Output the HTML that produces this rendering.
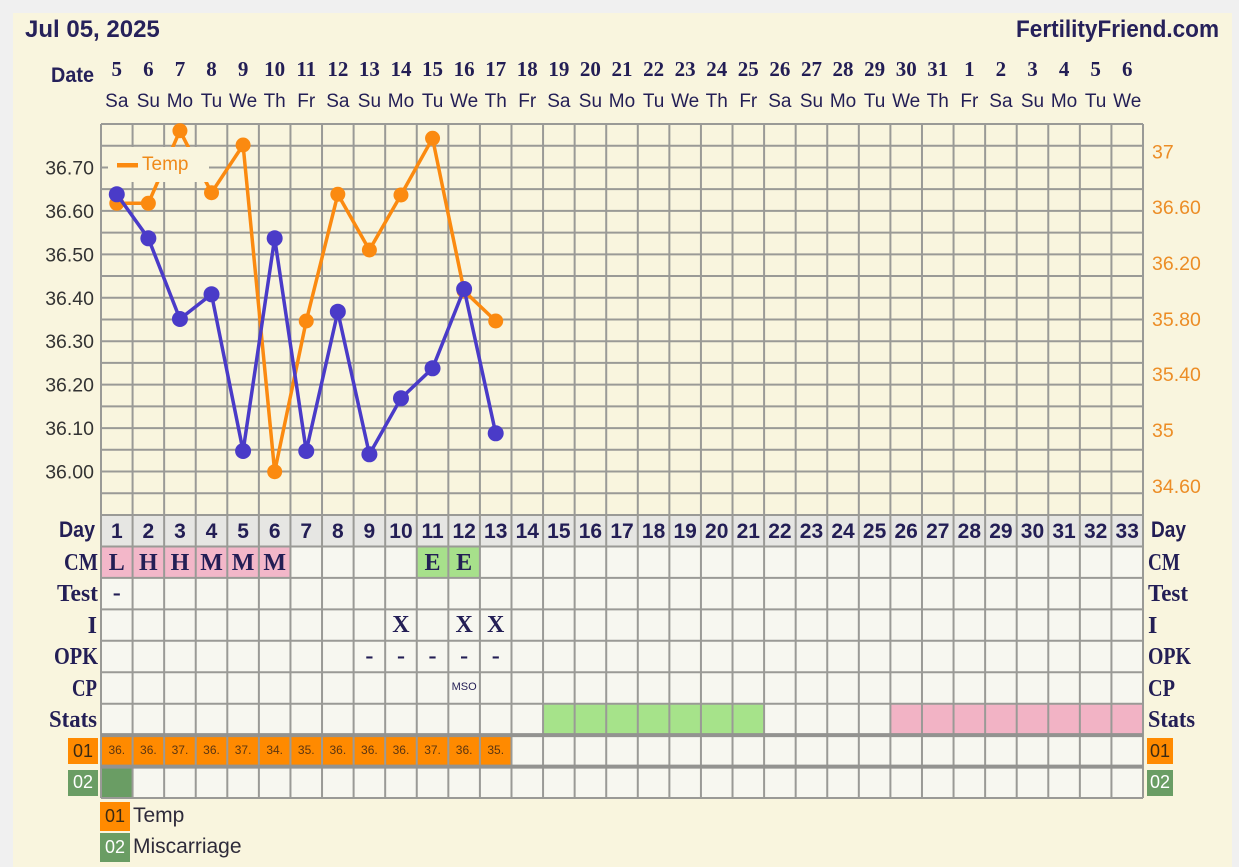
<!DOCTYPE html>
<html><head><meta charset="utf-8"><style>
html,body{margin:0;padding:0;background:#f0f0f0;}
svg{display:block;}
.sn{font-family:"Liberation Sans",sans-serif;}
.sf{font-family:"Liberation Serif",serif;font-weight:bold;}
</style></head><body>
<svg width="1239" height="867" viewBox="0 0 1239 867" xmlns="http://www.w3.org/2000/svg">
<rect x="0" y="0" width="1239" height="867" fill="#f0f0f0"/>
<rect x="13" y="13" width="1219" height="854" fill="#f9f5de"/>

<!-- header -->
<text x="25" y="37" class="sn" font-weight="bold" font-size="24" fill="#26215a">Jul 05, 2025</text>
<text x="1016" y="37" class="sn" font-weight="bold" font-size="24" fill="#26215a" textLength="203" lengthAdjust="spacingAndGlyphs">FertilityFriend.com</text>
<text x="94" y="82" class="sn" font-weight="bold" font-size="21" fill="#26215a" text-anchor="end" textLength="43" lengthAdjust="spacingAndGlyphs">Date</text>

<g class="sf" font-size="21" fill="#231e55" text-anchor="middle">
<text x="116.79" y="76">5</text><text x="148.36" y="76">6</text><text x="179.94" y="76">7</text><text x="211.52" y="76">8</text><text x="243.09" y="76">9</text><text x="274.67" y="76">10</text><text x="306.24" y="76">11</text><text x="337.82" y="76">12</text><text x="369.40" y="76">13</text><text x="400.97" y="76">14</text><text x="432.55" y="76">15</text><text x="464.12" y="76">16</text><text x="495.70" y="76">17</text><text x="527.28" y="76">18</text><text x="558.85" y="76">19</text><text x="590.43" y="76">20</text><text x="622.00" y="76">21</text><text x="653.58" y="76">22</text><text x="685.16" y="76">23</text><text x="716.73" y="76">24</text><text x="748.31" y="76">25</text><text x="779.88" y="76">26</text><text x="811.46" y="76">27</text><text x="843.04" y="76">28</text><text x="874.61" y="76">29</text><text x="906.19" y="76">30</text><text x="937.76" y="76">31</text><text x="969.34" y="76">1</text><text x="1000.92" y="76">2</text><text x="1032.49" y="76">3</text><text x="1064.07" y="76">4</text><text x="1095.64" y="76">5</text><text x="1127.22" y="76">6</text>
</g>
<g class="sn" font-size="19" fill="#231e55" text-anchor="middle">
<text x="116.79" y="107">Sa</text><text x="148.36" y="107">Su</text><text x="179.94" y="107">Mo</text><text x="211.52" y="107">Tu</text><text x="243.09" y="107">We</text><text x="274.67" y="107">Th</text><text x="306.24" y="107">Fr</text><text x="337.82" y="107">Sa</text><text x="369.40" y="107">Su</text><text x="400.97" y="107">Mo</text><text x="432.55" y="107">Tu</text><text x="464.12" y="107">We</text><text x="495.70" y="107">Th</text><text x="527.28" y="107">Fr</text><text x="558.85" y="107">Sa</text><text x="590.43" y="107">Su</text><text x="622.00" y="107">Mo</text><text x="653.58" y="107">Tu</text><text x="685.16" y="107">We</text><text x="716.73" y="107">Th</text><text x="748.31" y="107">Fr</text><text x="779.88" y="107">Sa</text><text x="811.46" y="107">Su</text><text x="843.04" y="107">Mo</text><text x="874.61" y="107">Tu</text><text x="906.19" y="107">We</text><text x="937.76" y="107">Th</text><text x="969.34" y="107">Fr</text><text x="1000.92" y="107">Sa</text><text x="1032.49" y="107">Su</text><text x="1064.07" y="107">Mo</text><text x="1095.64" y="107">Tu</text><text x="1127.22" y="107">We</text>
</g>

<!-- table backgrounds -->
<rect x="101" y="515" width="1042" height="31.45" fill="#e6e6e3"/>
<rect x="101" y="546.45" width="1042" height="251.6" fill="#f7f7f0"/>
<rect x="101" y="546.45" width="189.46" height="31.45" fill="#f3b7c9"/>
<rect x="416.76" y="546.45" width="63.15" height="31.45" fill="#a7e08b"/>
<rect x="543.06" y="703.7" width="221.04" height="31.45" fill="#a6e38a"/>
<rect x="890.40" y="703.7" width="252.61" height="31.45" fill="#f2b3c5"/>
<rect x="101" y="735.15" width="410.49" height="31.45" fill="#ff8a00"/>
<rect x="101" y="766.6" width="31.58" height="31.45" fill="#6a9d64"/>

<!-- grid -->
<path fill="none" stroke="#9a9a96" stroke-width="2" d="
M101 124V798M132.58 124V798M164.15 124V798M195.73 124V798M227.30 124V798M258.88 124V798M290.46 124V798M322.03 124V798M353.61 124V798M385.18 124V798M416.76 124V798M448.34 124V798M479.91 124V798M511.49 124V798M543.06 124V798M574.64 124V798M606.22 124V798M637.79 124V798M669.37 124V798M700.94 124V798M732.52 124V798M764.10 124V798M795.67 124V798M827.25 124V798M858.82 124V798M890.40 124V798M921.98 124V798M953.55 124V798M985.13 124V798M1016.70 124V798M1048.28 124V798M1079.86 124V798M1111.43 124V798M1143.01 124V798
M101 124H1143M101 145.72H1143M101 167.44H1143M101 189.16H1143M101 210.88H1143M101 232.6H1143M101 254.32H1143M101 276.04H1143M101 297.76H1143M101 319.48H1143M101 341.2H1143M101 362.92H1143M101 384.64H1143M101 406.36H1143M101 428.08H1143M101 449.8H1143M101 471.52H1143M101 493.24H1143M101 514.96H1143
M101 546.45H1143M101 577.9H1143M101 609.35H1143M101 640.8H1143M101 672.25H1143M101 703.7H1143M101 798.05H1143"/>
<path fill="none" stroke="#939390" stroke-width="4" d="M101 735.15H1143M101 766.6H1143"/>

<!-- series -->
<g fill="#fb8a10" stroke="none">
<polyline fill="none" stroke="#fb8a10" stroke-width="3.5" stroke-linejoin="round" points="116.79,203.3 148.36,203.3 179.94,130.7 211.52,192.7 243.09,145 274.67,471.7 306.24,321 337.82,194.3 369.40,250 400.97,195 432.55,138.3 464.12,291 495.70,321"/>
<circle cx="116.79" cy="203.3" r="7.5"/><circle cx="148.36" cy="203.3" r="7.5"/><circle cx="179.94" cy="130.7" r="7.5"/><circle cx="211.52" cy="192.7" r="7.5"/><circle cx="243.09" cy="145" r="7.5"/><circle cx="274.67" cy="471.7" r="7.5"/><circle cx="306.24" cy="321" r="7.5"/><circle cx="337.82" cy="194.3" r="7.5"/><circle cx="369.40" cy="250" r="7.5"/><circle cx="400.97" cy="195" r="7.5"/><circle cx="432.55" cy="138.3" r="7.5"/><circle cx="464.12" cy="291" r="7.5"/><circle cx="495.70" cy="321" r="7.5"/>
</g>
<g fill="#4a3bc8" stroke="none">
<polyline fill="none" stroke="#4a3bc8" stroke-width="3.5" stroke-linejoin="round" points="116.79,194.3 148.36,238.3 179.94,319 211.52,294.3 243.09,451 274.67,238.3 306.24,451 337.82,311.7 369.40,454.3 400.97,398.3 432.55,368.3 464.12,289 495.70,433.3"/>
<circle cx="116.79" cy="194.3" r="8"/><circle cx="148.36" cy="238.3" r="8"/><circle cx="179.94" cy="319" r="8"/><circle cx="211.52" cy="294.3" r="8"/><circle cx="243.09" cy="451" r="8"/><circle cx="274.67" cy="238.3" r="8"/><circle cx="306.24" cy="451" r="8"/><circle cx="337.82" cy="311.7" r="8"/><circle cx="369.40" cy="454.3" r="8"/><circle cx="400.97" cy="398.3" r="8"/><circle cx="432.55" cy="368.3" r="8"/><circle cx="464.12" cy="289" r="8"/><circle cx="495.70" cy="433.3" r="8"/>
</g>

<!-- chart legend -->
<rect x="108" y="147" width="101" height="35" fill="#f9f5de"/>
<rect x="117" y="163" width="21" height="4.5" fill="#fb8a10"/>
<text x="142" y="170" class="sn" font-size="19" fill="#f08a1a">Temp</text>

<!-- left axis -->
<g class="sn" font-size="19.5" fill="#333333" text-anchor="end">
<text x="94" y="174.4">36.70</text><text x="94" y="217.9">36.60</text><text x="94" y="261.3">36.50</text><text x="94" y="304.8">36.40</text><text x="94" y="348.2">36.30</text><text x="94" y="391.6">36.20</text><text x="94" y="435.1">36.10</text><text x="94" y="478.5">36.00</text>
</g>
<!-- right axis -->
<g class="sn" font-size="19.5" fill="#ec8d26">
<text x="1152" y="158.5">37</text><text x="1152" y="214">36.60</text><text x="1152" y="270">36.20</text><text x="1152" y="326">35.80</text><text x="1152" y="381">35.40</text><text x="1152" y="437">35</text><text x="1152" y="493">34.60</text>
</g>

<!-- row labels left -->
<text x="95" y="537" class="sn" font-weight="bold" font-size="22" fill="#231e55" text-anchor="end" textLength="36" lengthAdjust="spacingAndGlyphs">Day</text>
<g class="sf" font-size="24" fill="#231e55" text-anchor="end">
<text x="98" y="570" textLength="34" lengthAdjust="spacingAndGlyphs">CM</text>
<text x="98" y="601" textLength="41" lengthAdjust="spacingAndGlyphs">Test</text>
<text x="97" y="633">I</text>
<text x="98" y="664" textLength="44" lengthAdjust="spacingAndGlyphs">OPK</text>
<text x="97" y="696" textLength="25" lengthAdjust="spacingAndGlyphs">CP</text>
<text x="97" y="727" textLength="48" lengthAdjust="spacingAndGlyphs">Stats</text>
</g>
<!-- row labels right -->
<text x="1151" y="537" class="sn" font-weight="bold" font-size="22" fill="#231e55" textLength="35" lengthAdjust="spacingAndGlyphs">Day</text>
<g class="sf" font-size="24" fill="#231e55">
<text x="1148" y="570" textLength="32" lengthAdjust="spacingAndGlyphs">CM</text>
<text x="1148" y="601" textLength="40" lengthAdjust="spacingAndGlyphs">Test</text>
<text x="1148" y="633">I</text>
<text x="1148" y="664" textLength="43" lengthAdjust="spacingAndGlyphs">OPK</text>
<text x="1148" y="696" textLength="27" lengthAdjust="spacingAndGlyphs">CP</text>
<text x="1148" y="727" textLength="47" lengthAdjust="spacingAndGlyphs">Stats</text>
</g>

<!-- day numbers -->
<g class="sn" font-weight="bold" font-size="21" fill="#231e55" text-anchor="middle">
<text x="116.79" y="538">1</text><text x="148.36" y="538">2</text><text x="179.94" y="538">3</text><text x="211.52" y="538">4</text><text x="243.09" y="538">5</text><text x="274.67" y="538">6</text><text x="306.24" y="538">7</text><text x="337.82" y="538">8</text><text x="369.40" y="538">9</text><text x="400.97" y="538">10</text><text x="432.55" y="538">11</text><text x="464.12" y="538">12</text><text x="495.70" y="538">13</text><text x="527.28" y="538">14</text><text x="558.85" y="538">15</text><text x="590.43" y="538">16</text><text x="622.00" y="538">17</text><text x="653.58" y="538">18</text><text x="685.16" y="538">19</text><text x="716.73" y="538">20</text><text x="748.31" y="538">21</text><text x="779.88" y="538">22</text><text x="811.46" y="538">23</text><text x="843.04" y="538">24</text><text x="874.61" y="538">25</text><text x="906.19" y="538">26</text><text x="937.76" y="538">27</text><text x="969.34" y="538">28</text><text x="1000.92" y="538">29</text><text x="1032.49" y="538">30</text><text x="1064.07" y="538">31</text><text x="1095.64" y="538">32</text><text x="1127.22" y="538">33</text>
</g>

<!-- cell contents -->
<g class="sf" font-size="24" fill="#231e55" text-anchor="middle">
<text x="116.79" y="570">L</text><text x="148.36" y="570">H</text><text x="179.94" y="570">H</text><text x="211.52" y="570">M</text><text x="243.09" y="570">M</text><text x="274.67" y="570">M</text>
<text x="432.55" y="570">E</text><text x="464.12" y="570">E</text>
<text x="116.79" y="600">-</text>
<text x="400.97" y="632">X</text><text x="464.12" y="632">X</text><text x="495.70" y="632">X</text>
<text x="369.40" y="663">-</text><text x="400.97" y="663">-</text><text x="432.55" y="663">-</text><text x="464.12" y="663">-</text><text x="495.70" y="663">-</text>
</g>
<text x="464.12" y="690" class="sn" font-size="11" fill="#231e55" text-anchor="middle">MSO</text>

<g class="sn" font-size="12" fill="#5a3512" text-anchor="middle">
<text x="116.79" y="754">36.</text><text x="148.36" y="754">36.</text><text x="179.94" y="754">37.</text><text x="211.52" y="754">36.</text><text x="243.09" y="754">37.</text><text x="274.67" y="754">34.</text><text x="306.24" y="754">35.</text><text x="337.82" y="754">36.</text><text x="369.40" y="754">36.</text><text x="400.97" y="754">36.</text><text x="432.55" y="754">37.</text><text x="464.12" y="754">36.</text><text x="495.70" y="754">35.</text>
</g>

<!-- side badges -->
<rect x="68" y="738" width="30" height="26" fill="#ff8a00"/>
<text x="83" y="757" class="sn" font-size="18" fill="#3a2a14" text-anchor="middle">01</text>
<rect x="68" y="770" width="30" height="26" fill="#6a9d64"/>
<text x="83" y="788" class="sn" font-size="18" fill="#ffffff" text-anchor="middle">02</text>
<rect x="1147" y="738" width="26" height="26" fill="#ff8a00"/>
<text x="1160" y="757" class="sn" font-size="18" fill="#3a2a14" text-anchor="middle">01</text>
<rect x="1147" y="770" width="26" height="26" fill="#6a9d64"/>
<text x="1160" y="788" class="sn" font-size="18" fill="#ffffff" text-anchor="middle">02</text>

<!-- bottom legend -->
<rect x="100" y="802" width="30" height="29" fill="#ff8a00"/>
<text x="115" y="822" class="sn" font-size="18" fill="#3a2a14" text-anchor="middle">01</text>
<text x="133" y="822" class="sn" font-size="21" fill="#2e2b3a">Temp</text>
<rect x="100" y="833" width="30" height="29" fill="#6a9d64"/>
<text x="115" y="853" class="sn" font-size="18" fill="#ffffff" text-anchor="middle">02</text>
<text x="133" y="853" class="sn" font-size="21" fill="#2e2b3a">Miscarriage</text>
</svg>
</body></html>
